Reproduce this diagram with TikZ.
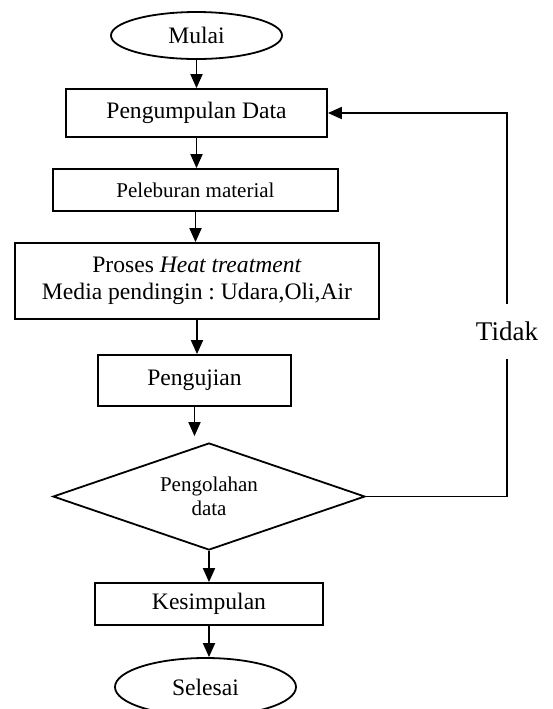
\documentclass[tikz,border=0pt]{standalone}
\usepackage{fontspec}
\setmainfont{Liberation Serif}
\frenchspacing
\usepackage{tikz}
\usetikzlibrary{shapes.geometric,arrows.meta}

\begin{document}
\begin{tikzpicture}[x=0.5pt, y=-0.5pt,
            kotak/.style={draw=black, line width=0.9pt, inner sep=0pt, align=center, font=\fontsize{11.8}{13.5}\selectfont},
            elips/.style={kotak, ellipse},
            belah/.style={kotak, diamond, shape aspect=2.9, font=\fontsize{10.5}{12}\selectfont},
            alur/.style={black, line width=0.9pt, -{Triangle[width=6pt,length=7pt]}}]
            \useasboundingbox (0,0) rectangle (553,709);

            \node[elips, minimum width=85.5pt, minimum height=23.5pt] (mulai) at (196.5,35.5) {Mulai};
            \node[kotak, minimum width=130.5pt, minimum height=24pt] (kumpul) at (196.5,113) {Pengumpulan Data};
            \node[kotak, minimum width=142.5pt, minimum height=21pt, font=\fontsize{10.5}{12}\selectfont] (lebur) at (195.5,190) {Peleburan material};
            \node[kotak, minimum width=182pt, minimum height=38pt] (heat) at (197,281) {Proses \textit{Heat treatment}\\Media pendingin : Udara,Oli,Air};
            \node[kotak, minimum width=96.5pt, minimum height=25.5pt] (uji) at (194.5,380.5) {Pengujian};
            \node[belah, minimum width=156pt, minimum height=53.5pt] (olah) at (209,496.5) {Pengolahan\\data};
            \node[kotak, minimum width=114pt, minimum height=21pt] (simpul) at (209,604) {Kesimpulan};
            \node[elips, minimum width=90.5pt, minimum height=29pt] (selesai) at (205.5,687) {Selesai};
            \coordinate (balik) at (507,0);

            \draw[alur] (mulai.south) -- (kumpul.north);
            \draw[alur] (kumpul.south) -- (kumpul.south |- lebur.north);
            \draw[alur] (lebur.south) -- (lebur.south |- heat.north);
            \draw[alur] (heat.south) -- (heat.south |- uji.north);
            \draw[alur] (uji.south) -- ([yshift=3pt]uji.south |- olah.north);
            \draw[alur] (olah.south) -- (olah.south |- simpul.north);
            \draw[alur] (simpul.south) -- (simpul.south |- selesai.north);

            \draw[alur] (olah.east) -- (olah.east -| balik)
                -- node[pos=0.43, fill=white, inner xsep=1pt, inner ysep=9pt, font=\fontsize{13.5}{15}\selectfont] (tidak) {Tidak} (balik |- kumpul.east)
                -- (kumpul.east);
        \end{tikzpicture}
\end{document}
